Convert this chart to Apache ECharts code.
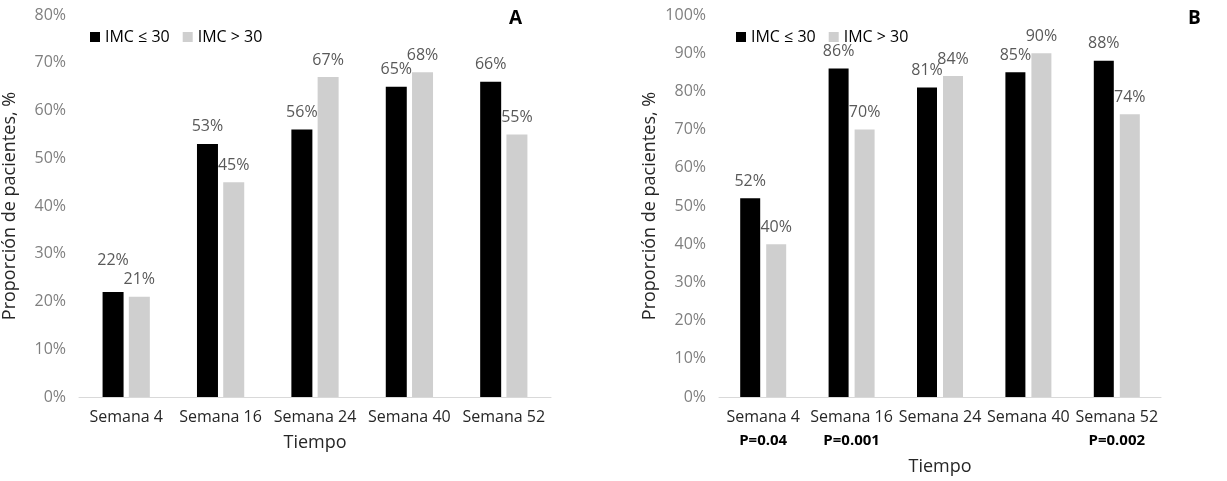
<!DOCTYPE html>
<html>
<head>
<meta charset="utf-8">
<script src="https://cdn.jsdelivr.net/npm/echarts@6/dist/echarts.min.js"></script>
<style>
  html, body { margin: 0; padding: 0; background: #fff; }
  #chart { width: 1227px; height: 481px; }
</style>
</head>
<body>
<div id="chart"></div>
<script>
// Weeks of follow-up
const categories = ['Semana 4', 'Semana 16', 'Semana 24', 'Semana 40', 'Semana 52'];
const seriesNames = ['IMC ≤ 30', 'IMC > 30'];

// Panel A: proportion of patients (%)
const panelA_low = [22, 53, 56, 65, 66];
const panelA_high = [21, 45, 67, 68, 55];

// Panel B: proportion of patients (%)
const panelB_low = [52, 86, 81, 85, 88];
const panelB_high = [40, 70, 84, 90, 74];

// P values shown under the panel B categories ('' = none)
const panelB_pvalues = ['P=0.04', 'P=0.001', '', '', 'P=0.002'];

const FONT = '"Open Sans", "Noto Sans", sans-serif';
const BLACK = '#000000';
const GREY = '#cfcfcf';

// When the two values of a group are nearly equal, lift the first label so both stay readable
function liftCloseLabels(values, other) {
  return values.map(function (v, i) {
    return Math.abs(v - other[i]) <= 2 ? { value: v, label: { offset: [0, -15] } } : v;
  });
}

function barSeries(name, data, axisIndex, color, width, gap) {
  return {
    name: name,
    type: 'bar',
    xAxisIndex: axisIndex,
    yAxisIndex: axisIndex,
    data: data,
    barWidth: width,
    barGap: gap,
    itemStyle: { color: color },
    label: {
      show: true,
      position: 'top',
      distance: 9,
      formatter: '{c}%',
      color: '#595959',
      fontFamily: FONT,
      fontSize: 16
    }
  };
}

function yAxis(gridIndex, max) {
  return {
    type: 'value',
    gridIndex: gridIndex,
    min: 0,
    max: max,
    interval: 10,
    name: 'Proporción de pacientes, %',
    nameLocation: 'middle',
    nameGap: 60,
    nameTextStyle: { color: '#262626', fontFamily: FONT, fontSize: 18 },
    axisLine: { show: false },
    axisTick: { show: false },
    splitLine: { show: false },
    axisLabel: {
      formatter: '{value}%',
      color: '#7f7f7f',
      fontFamily: FONT,
      fontSize: 16,
      margin: 13
    }
  };
}

function xAxis(gridIndex, nameGap, formatter) {
  return {
    type: 'category',
    gridIndex: gridIndex,
    data: categories,
    name: 'Tiempo',
    nameLocation: 'middle',
    nameGap: nameGap,
    nameTextStyle: { color: '#262626', fontFamily: FONT, fontSize: 18 },
    axisLine: { lineStyle: { color: '#d9d9d9', width: 1 } },
    axisTick: { show: false },
    axisLabel: {
      interval: 0,
      margin: 8,
      color: '#262626',
      fontFamily: FONT,
      fontSize: 16,
      lineHeight: 24,
      formatter: formatter,
      rich: {
        p: { fontWeight: 'bold', fontFamily: FONT, fontSize: 15, color: '#000', lineHeight: 24 }
      }
    }
  };
}

const chart = echarts.init(document.getElementById('chart'), null, { renderer: 'canvas' });

chart.setOption({
  backgroundColor: '#ffffff',
  animation: false,
  title: [
    { text: 'A', left: 504, top: 4, textStyle: { fontFamily: FONT, fontSize: 19, fontWeight: 'bold', color: '#000' } },
    { text: 'B', left: 1183, top: 4, textStyle: { fontFamily: FONT, fontSize: 19, fontWeight: 'bold', color: '#000' } }
  ],
  legend: [
    {
      left: 85, top: 24, itemWidth: 10, itemHeight: 10, itemGap: 13, icon: 'rect',
      data: seriesNames,
      textStyle: { color: '#000', fontFamily: FONT, fontSize: 16 }
    },
    {
      left: 731, top: 24, itemWidth: 10, itemHeight: 10, itemGap: 13, icon: 'rect',
      data: seriesNames,
      textStyle: { color: '#000', fontFamily: FONT, fontSize: 16 }
    }
  ],
  grid: [
    { left: 78, right: 676, top: 15, bottom: 84 },
    { left: 719, right: 66, top: 15, bottom: 84 }
  ],
  xAxis: [
    xAxis(0, 34),
    xAxis(1, 60, function (value, idx) {
      const p = panelB_pvalues[idx];
      return p ? value + '\n{p|' + p + '}' : value;
    })
  ],
  yAxis: [yAxis(0, 80), yAxis(1, 100)],
  series: [
    barSeries(seriesNames[0], liftCloseLabels(panelA_low, panelA_high), 0, BLACK, 21, '25%'),
    barSeries(seriesNames[1], panelA_high, 0, GREY, 21, '25%'),
    barSeries(seriesNames[0], liftCloseLabels(panelB_low, panelB_high), 1, BLACK, 20, '30%'),
    barSeries(seriesNames[1], panelB_high, 1, GREY, 20, '30%')
  ]
});
</script>
</body>
</html>
